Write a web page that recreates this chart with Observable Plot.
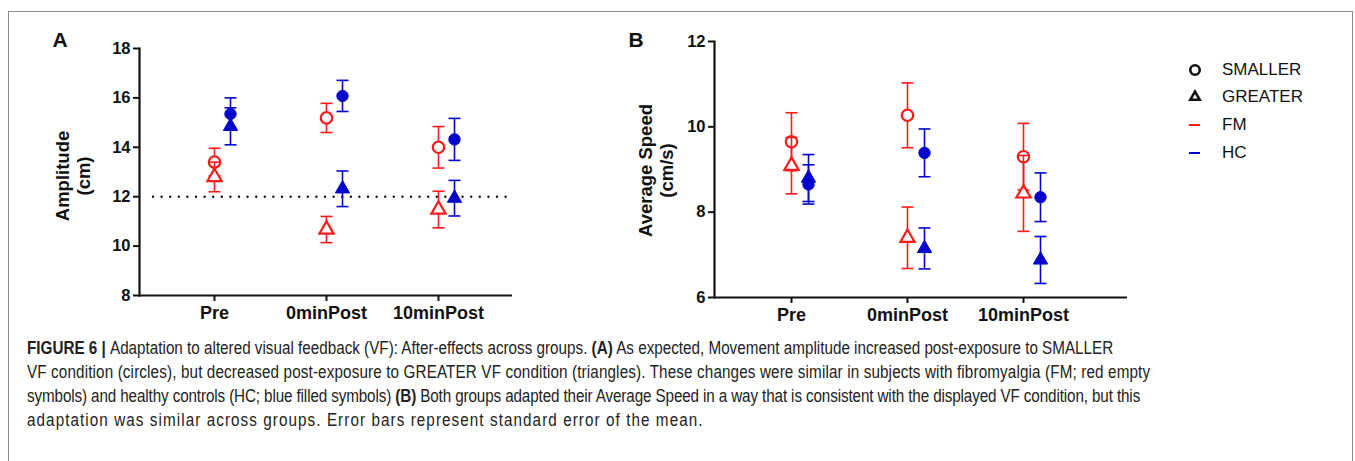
<!DOCTYPE html>
<html>
<head>
<meta charset="utf-8">
<script src="https://cdn.jsdelivr.net/npm/d3@7"></script>
<script src="https://cdn.jsdelivr.net/npm/@observablehq/plot@0.6"></script>
<style>
  html, body { margin: 0; padding: 0; background: #fff; }
  body { width: 1355px; height: 461px; position: relative; overflow: hidden; font-family: "Liberation Sans", Arial, sans-serif; }
  #frame { position: absolute; left: 8px; top: 11px; width: 1345px; height: 470px; border: 1px solid #8c8c8c; box-sizing: border-box; }
  #panelA { position: absolute; left: 0; top: 0; }
  #panelB { position: absolute; left: 560px; top: 0; }
  #legend { position: absolute; left: 1185px; top: 56px; }
  #caption { position: absolute; left: 0; top: 330px; }
  .leg-row { height: 27.6px; display: flex; align-items: center; font-size: 17px; color: #111; }
  .leg-row svg { width: 22px; height: 20px; margin-right: 15px; }
</style>
</head>
<body>
<div id="frame"></div>
<div id="panelA"></div>
<div id="panelB"></div>
<div id="legend"></div>
<div id="caption"></div>
<script>
// ---------- data ----------
const conditions = ["Pre", "0minPost", "10minPost"];

// Panel A: Amplitude (cm), mean and standard error
const ampSmallerFM   = [13.40, 15.19, 14.00];
const ampSmallerFMse = [0.56, 0.59, 0.84];
const ampGreaterFM   = [12.80, 10.67, 11.48];
const ampGreaterFMse = [0.60, 0.53, 0.74];
const ampSmallerHC   = [15.35, 16.08, 14.32];
const ampSmallerHCse = [0.65, 0.63, 0.85];
const ampGreaterHC   = [14.85, 12.32, 11.94];
const ampGreaterHCse = [0.75, 0.72, 0.72];
const ampReference   = [12];
const ampTicks       = [8, 10, 12, 14, 16, 18];

// Panel B: Average Speed (cm/s), mean and standard error
const spdSmallerFM   = [9.65, 10.27, 9.30];
const spdSmallerFMse = [0.68, 0.76, 0.78];
const spdGreaterFM   = [9.09, 7.40, 8.44];
const spdGreaterFMse = [0.66, 0.72, 0.89];
const spdSmallerHC   = [8.65, 9.39, 8.35];
const spdSmallerHCse = [0.46, 0.56, 0.57];
const spdGreaterHC   = [8.80, 7.15, 6.88];
const spdGreaterHCse = [0.55, 0.48, 0.55];
const spdTicks       = [6, 8, 10, 12];

const legendSymbols = ["SMALLER", "GREATER"];
const legendGroups  = ["FM", "HC"];

// ---------- styles ----------
const RED = "#ff1a1a";
const BLUE = "#0505cc";

const capSymbol = {
  draw(context, size) {
    const w = Math.sqrt(size / Math.PI);
    context.moveTo(-w, 0);
    context.lineTo(w, 0);
  }
};

function rows(means, ses, group, vf) {
  return conditions.map((c, i) => ({cond: c, mean: means[i], se: ses[i], group, vf}));
}

function seriesMarks(data, color, filled, dx) {
  const isCircle = data[0].vf === "SMALLER";
  return [
    Plot.ruleX(data, {x: "cond", y1: d => d.mean - d.se, y2: d => d.mean + d.se, stroke: color, strokeWidth: 1.6, dx}),
    Plot.dot(data, {x: "cond", y: d => d.mean - d.se, symbol: capSymbol, r: 6, stroke: color, strokeWidth: 1.6, dx}),
    Plot.dot(data, {x: "cond", y: d => d.mean + d.se, symbol: capSymbol, r: 6, stroke: color, strokeWidth: 1.6, dx}),
    Plot.dot(data, {
      x: "cond", y: "mean",
      symbol: isCircle ? "circle" : "triangle",
      r: isCircle ? 5.7 : 5.3,
      fill: filled ? color : "white",
      stroke: color, strokeWidth: filled ? 1 : 2.2, dx
    })
  ];
}

function panel({width, height, margins, xRange, yDomain, yTicks, series, letter, letterDx, letterDy, title, titleDx, titleDy, hcDx, extra}) {
  const [mt, mr, mb, ml] = margins;
  return Plot.plot({
    width, height,
    marginTop: mt, marginRight: mr, marginBottom: mb, marginLeft: ml,
    style: {fontFamily: "'Liberation Sans', Arial, sans-serif", background: "transparent", color: "#111"},
    x: {type: "point", domain: conditions, range: xRange, padding: 0},
    y: {domain: yDomain},
    marks: [
      ...(extra || []),
      Plot.ruleY([yDomain[0]], {stroke: "#111", strokeWidth: 2.2}),
      Plot.frame({anchor: "left", stroke: "#111", strokeWidth: 2.2}),
      Plot.axisX({tickSize: 6, tickPadding: 5, strokeWidth: 2, fontSize: 18, fontWeight: "bold", label: null, fill: "#111"}),
      Plot.axisY({ticks: yTicks, tickFormat: d3.format("d"), tickSize: 6, tickPadding: 3, strokeWidth: 2, fontSize: 16.5, fontWeight: "bold", label: null, fill: "#111"}),
      ...series.flatMap(s => seriesMarks(s.data, s.color, s.filled, s.hc ? hcDx : 0)),
      Plot.text([title], {frameAnchor: "left", dx: titleDx, dy: titleDy, rotate: -90, textAnchor: "middle", lineAnchor: "middle", fontSize: 18.5, fontWeight: "bold", lineHeight: 1.15, fill: "#111"}),
      Plot.text([letter], {frameAnchor: "top-left", dx: letterDx, dy: letterDy, textAnchor: "start", lineAnchor: "top", fontSize: 21, fontWeight: "bold", fill: "#111"})
    ]
  });
}

const chartA = panel({
  width: 560, height: 330, margins: [48, 48, 35, 139],
  xRange: [214, 438], yDomain: [8, 18], yTicks: ampTicks,
  letter: "A", letterDx: -87, letterDy: -16,
  title: "Amplitude\n(cm)", titleDx: -67, titleDy: 4, hcDx: 16,
  extra: [Plot.ruleY(ampReference, {stroke: "#111", strokeWidth: 2.4, strokeDasharray: "0,8.6", strokeLinecap: "round", insetLeft: 14})],
  series: [
    {data: rows(ampSmallerFM, ampSmallerFMse, "FM", "SMALLER"), color: RED, filled: false},
    {data: rows(ampSmallerHC, ampSmallerHCse, "HC", "SMALLER"), color: BLUE, filled: true, hc: true},
    {data: rows(ampGreaterFM, ampGreaterFMse, "FM", "GREATER"), color: RED, filled: false},
    {data: rows(ampGreaterHC, ampGreaterHCse, "HC", "GREATER"), color: BLUE, filled: true, hc: true}
  ]
});
document.getElementById("panelA").append(chartA);

const chartB = panel({
  width: 600, height: 330, margins: [41, 33, 33, 154],
  xRange: [231, 463], yDomain: [6, 12], yTicks: spdTicks,
  letter: "B", letterDx: -86, letterDy: -9,
  title: "Average Speed\n(cm/s)", titleDx: -59, titleDy: 1, hcDx: 17,
  series: [
    {data: rows(spdSmallerFM, spdSmallerFMse, "FM", "SMALLER"), color: RED, filled: false},
    {data: rows(spdSmallerHC, spdSmallerHCse, "HC", "SMALLER"), color: BLUE, filled: true, hc: true},
    {data: rows(spdGreaterFM, spdGreaterFMse, "FM", "GREATER"), color: RED, filled: false},
    {data: rows(spdGreaterHC, spdGreaterHCse, "HC", "GREATER"), color: BLUE, filled: true, hc: true}
  ]
});
document.getElementById("panelB").append(chartB);

// ---------- legend ----------
const legend = d3.select("#legend");
legendSymbols.forEach((label, i) => {
  const row = legend.append("div").attr("class", "leg-row");
  const svg = row.append("svg");
  const sym = i === 0 ? d3.symbolCircle : d3.symbolTriangle2;
  svg.append("path")
    .attr("transform", "translate(10,10)")
    .attr("d", d3.symbol(sym, i === 0 ? 70 : 62)())
    .attr("fill", "none").attr("stroke", "#111").attr("stroke-width", 2.6);
  row.append("span").text(label);
});
legendGroups.forEach((label, i) => {
  const row = legend.append("div").attr("class", "leg-row");
  const svg = row.append("svg");
  svg.append("line").attr("x1", 4).attr("x2", 15).attr("y1", 10).attr("y2", 10)
    .attr("stroke", i === 0 ? RED : BLUE).attr("stroke-width", 2);
  row.append("span").text(label);
});

// ---------- caption ----------
const captionLines = [
  [["FIGURE 6 | ", true], ["Adaptation to altered visual feedback (VF): After-effects across groups. ", false], ["(A)", true], [" As expected, Movement amplitude increased post-exposure to SMALLER", false]],
  [["VF condition (circles), but decreased post-exposure to GREATER VF condition (triangles). These changes were similar in subjects with fibromyalgia (FM; red empty", false]],
  [["symbols) and healthy controls (HC; blue filled symbols) ", false], ["(B)", true], [" Both groups adapted their Average Speed in a way that is consistent with the displayed VF condition, but this", false]],
  [["adaptation was similar across groups. Error bars represent standard error of the mean.", false]]
];
const captionWidths = [1087, 1124, 1114, 677];
const condense = 0.87;
const cap = d3.select("#caption").append("svg").attr("width", 1355).attr("height", 131);
captionLines.forEach((parts, i) => {
  const t = cap.append("text")
    .attr("x", 0).attr("y", 0)
    .attr("font-family", "'Liberation Sans', Arial, sans-serif")
    .attr("font-size", 17.5).attr("fill", "#222")
    .style("white-space", "pre");
  parts.forEach(([s, b]) => t.append("tspan").attr("font-weight", b ? "bold" : "normal").text(s));
  const natural = t.node().getComputedTextLength();
  const n = parts.reduce((a, [s]) => a + s.length, 0);
  const ls = (captionWidths[i] / condense - natural) / n;
  t.attr("letter-spacing", ls.toFixed(3));
  t.attr("transform", `translate(27,${24 + i * 24}) scale(${condense},1)`);
});
</script>
</body>
</html>
